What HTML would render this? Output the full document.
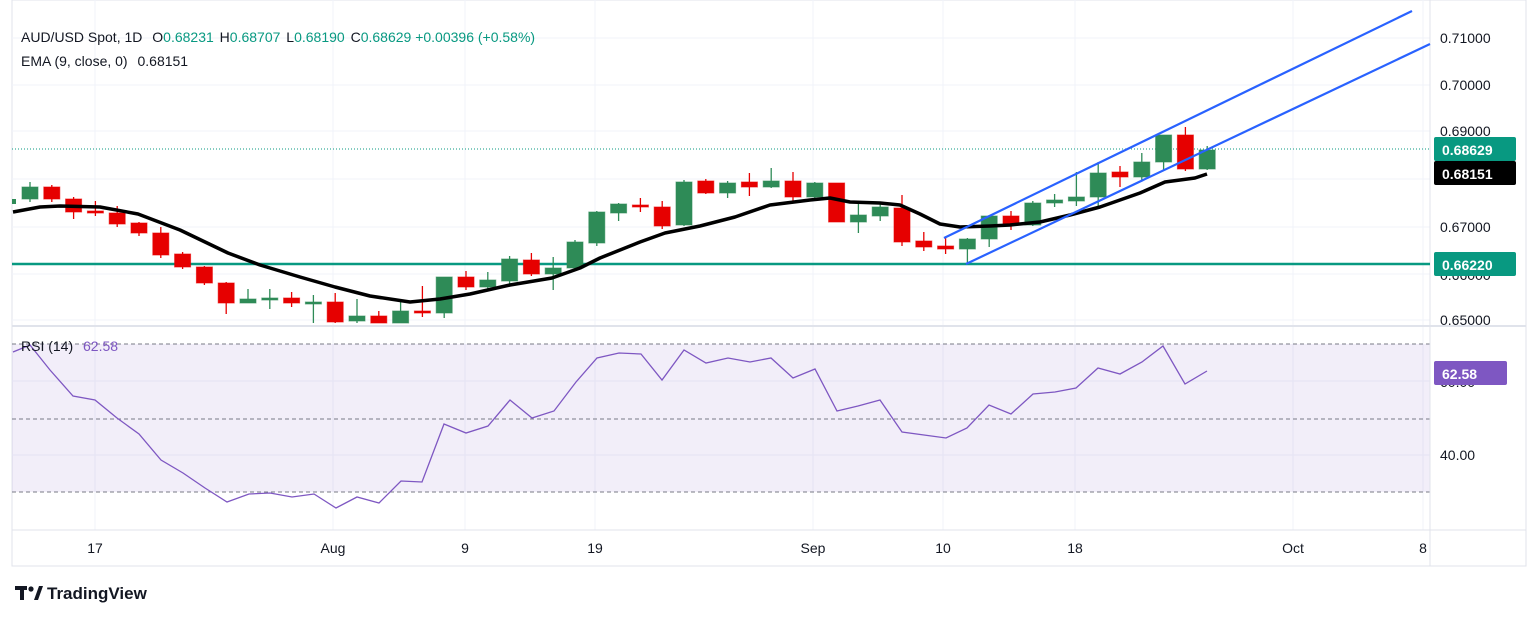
<!DOCTYPE html>
<html><head><meta charset="utf-8"><style>
body{margin:0;background:#fff;width:1536px;height:618px;overflow:hidden;font-family:"Liberation Sans",sans-serif}
svg{position:absolute;left:0;top:0}
</style></head><body>
<svg id="s" width="1536" height="618" xmlns="http://www.w3.org/2000/svg" font-family="Liberation Sans, sans-serif">
<rect x="12" y="0" width="1514" height="566" fill="#fff" stroke="#e0e3eb"/>
<g id="grid" stroke="#f0f3fa" stroke-width="1"></g>
<rect x="12" y="344" width="1418" height="148" fill="#7e57c2" fill-opacity="0.1"/>
<g stroke="#787b86" stroke-dasharray="4,3" stroke-width="1">
<line x1="12" y1="344" x2="1430" y2="344"/><line x1="12" y1="419" x2="1430" y2="419"/><line x1="12" y1="492" x2="1430" y2="492"/></g>
<line x1="12" y1="326" x2="1526" y2="326" stroke="#e0e3eb" stroke-width="2"/>
<line x1="1430" y1="0" x2="1430" y2="566" stroke="#e0e3eb"/>
<line x1="12" y1="530" x2="1526" y2="530" stroke="#e0e3eb"/>
<line x1="12" y1="149" x2="1430" y2="149" stroke="#089981" stroke-dasharray="1,2"/>
<line x1="12" y1="264" x2="1430" y2="264" stroke="#089981" stroke-width="2.5"/>
<g id="candles"></g>
<polyline id="ema" fill="none" stroke="#000" stroke-width="3.5" stroke-linejoin="round"/>
<line x1="966" y1="264" x2="1430" y2="44" stroke="#2962ff" stroke-width="2.2"/>
<line x1="944" y1="238" x2="1412" y2="11" stroke="#2962ff" stroke-width="2.2"/>
<polyline id="rsi" fill="none" stroke="#7e57c2" stroke-width="1.3"/>
<g font-size="14" fill="#131722">
<text x="1440" y="43">0.71000</text><text x="1440" y="90">0.70000</text><text x="1440" y="136">0.69000</text>
<text x="1440" y="232">0.67000</text><text x="1440" y="280">0.66000</text><text x="1440" y="325">0.65000</text>
<text x="1440" y="387">60.00</text><text x="1440" y="460">40.00</text>
</g>
<rect x="1434" y="137" width="82" height="24" rx="2" fill="#089981"/><text x="1442" y="155" font-size="14" fill="#fff" font-weight="bold">0.68629</text>
<rect x="1434" y="161" width="82" height="24" rx="2" fill="#000"/><text x="1442" y="179" font-size="14" fill="#fff" font-weight="bold">0.68151</text>
<rect x="1434" y="252" width="82" height="24" rx="2" fill="#089981"/><text x="1442" y="270" font-size="14" fill="#fff" font-weight="bold">0.66220</text>
<rect x="1434" y="361" width="73" height="24" rx="2" fill="#7e57c2"/><text x="1442" y="379" font-size="14" fill="#fff" font-weight="bold">62.58</text>
<g font-size="14" fill="#131722" text-anchor="middle">
<text x="95" y="553">17</text><text x="333" y="553">Aug</text><text x="465" y="553">9</text><text x="595" y="553">19</text>
<text x="813" y="553">Sep</text><text x="943" y="553">10</text><text x="1075" y="553">18</text><text x="1293" y="553">Oct</text><text x="1423" y="553">8</text>
</g>
<text x="21" y="42" font-size="14" fill="#131722">AUD/USD Spot, 1D <tspan dx="6">O</tspan><tspan fill="#089981">0.68231</tspan> <tspan dx="2">H</tspan><tspan fill="#089981">0.68707</tspan> <tspan dx="2">L</tspan><tspan fill="#089981">0.68190</tspan> <tspan dx="2">C</tspan><tspan fill="#089981">0.68629 +0.00396 (+0.58%)</tspan></text>
<text x="21" y="66" font-size="14" fill="#131722">EMA (9, close, 0) <tspan dx="6">0.68151</tspan></text>
<text x="21" y="351" font-size="14" fill="#131722">RSI (14) <tspan dx="6" fill="#7e57c2">62.58</tspan></text>
<g transform="translate(15,586)"><rect x="0" y="0" width="12" height="4" fill="#131722"/><rect x="5" y="0" width="4" height="14" fill="#131722"/><circle cx="16" cy="3" r="2.6" fill="#131722"/><path d="M19 14 L24 0 L28 0 L23 14Z" fill="#131722"/></g>
<text x="47" y="599" font-size="17" fill="#131722" font-weight="bold">TradingView</text>
</svg>
<script>
var NS="http://www.w3.org/2000/svg";
function el(p,t,a){var e=document.createElementNS(NS,t);for(var k in a)e.setAttribute(k,a[k]);p.appendChild(e);return e;}
var g=document.getElementById('grid');
[38,85,131,179,227,274,320,381,455].forEach(function(y){el(g,'line',{x1:12,x2:1430,y1:y,y2:y});});
[95,333,465,595,813,943,1075,1293,1423].forEach(function(x){el(g,'line',{x1:x,x2:x,y1:0,y2:530});});
// [bodyTop, bodyBottom, wickTop, wickBottom, green?]
var C=[
[187,199,182,202,1],[187,199,185,202,0],[199,212,197,219,0],[211,213,201,216,0],[213,224,206,227,0],[223,233,222,236,0],[233,255,227,258,0],[254,267,252,269,0],[267,283,266,285,0],[283,303,282,314,0],
[299,303,289,303,1],[298,299,289,309,1],[298,303,292,307,0],[302,304,295,323,1],[302,322,293,323,0],[316,321,299,323,1],[316,323,311,323,0],[311,323,302,323,1],[311,313,286,317,0],[277,313,277,318,1],
[277,287,271,290,0],[280,287,272,290,1],[259,281,256,285,1],[260,274,253,276,0],[268,274,257,290,1],[242,268,240,269,1],[212,243,211,246,1],[204,213,203,221,1],[205,206,198,212,0],[207,226,201,229,0],
[182,225,180,226,1],[181,193,179,194,0],[183,193,181,198,1],[182,187,173,196,0],[181,187,168,188,1],[181,197,172,202,0],[183,197,182,200,1],[183,222,183,222,0],[215,222,203,233,1],[207,216,203,221,1],
[208,242,195,246,0],[241,247,232,251,0],[246,249,238,254,0],[239,249,238,264,1],[216,239,215,247,1],[216,225,211,230,0],[203,225,201,226,1],[200,203,194,207,1],[197,201,172,206,1],[173,197,162,208,1],
[172,177,166,187,0],[162,177,153,180,1],[135,162,135,170,1],[135,169,127,171,0],[150,169,146,170,1]];
var cg=document.getElementById('candles');
C.forEach(function(c,i){var x=30+i*21.8,col=c[4]?'#2e8b57':'#e60000';
el(cg,'line',{x1:x,x2:x,y1:c[2],y2:c[3],stroke:col,'stroke-width':1.3});
el(cg,'rect',{x:x-8,y:c[0],width:16,height:Math.max(2,c[1]-c[0]),fill:col,stroke:col,'stroke-opacity':0.6});});
el(cg,'rect',{x:12,y:199,width:4,height:5,fill:'#2e8b57'});
document.getElementById('ema').setAttribute('points',"13,212 40,207 60,206 100,207 138,214 180,230 228,253 260,265 300,277 335,287 370,296 410,302 440,299 470,294 510,285 552,278 580,268 600,258 640,242 665,233 700,226 735,217 770,205 810,200 830,198 850,202 880,203 900,205 920,214 940,224 960,227 990,226 1010,225 1040,222 1070,215 1100,207 1140,193 1165,182 1195,178 1207,174");
document.getElementById('rsi').setAttribute('points',"13,352 30,345 50,370 73,396 95,400 117,418 139,434 161,460 183,473 205,488 227,502 249,494 270,493 292,497 314,494 336,508 357,497 379,503 401,481 422,482 444,424 466,433 488,426 510,400 532,418 554,411 576,382 597,358 619,353 641,354 662,380 684,350 706,363 728,358 750,362 771,358 793,378 815,369 837,411 858,406 880,400 902,432 924,435 946,438 967,428 989,405 1011,414 1033,394 1055,392 1076,388 1098,368 1120,374 1142,362 1163,346 1185,384 1207,371");
</script>
</body></html>
